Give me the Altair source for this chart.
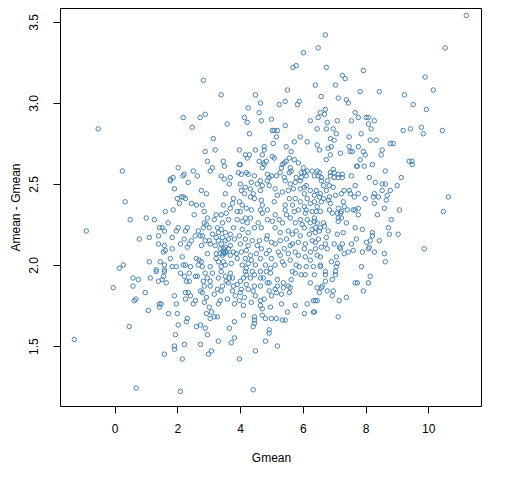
import altair as alt
import pandas as pd

# --- values, grouped by region of the plot ---
gmean_top = [11.21, 6.72, 6.49, 6.02, 10.54, 5.69, 5.79, 6.75, 7.93, 7.26, 7.35, 9.90, 2.83, 6.40, 7.04, 5.51, 7.83, 8.44, 10.16]
diff_top = [3.54, 3.42, 3.34, 3.31, 3.34, 3.22, 3.23, 3.22, 3.20, 3.17, 3.15, 3.16, 3.14, 3.11, 3.11, 3.08, 3.07, 3.07, 3.08]

gmean_left = [-0.52, 0.25, 0.34, 0.50, -0.90, 0.79, 0.28, 0.15, 0.59, 0.76, -0.04, 0.59, 0.68, 0.63, 0.47, -1.28, 0.69]
diff_left = [2.84, 2.58, 2.39, 2.28, 2.21, 2.16, 2.00, 1.98, 1.92, 1.91, 1.86, 1.87, 1.79, 1.78, 1.62, 1.54, 1.24]

gmean_right = [9.24, 9.52, 9.94, 9.20, 9.43, 9.78, 9.84, 10.45, 9.39, 9.48, 9.49, 9.14, 10.64, 10.48, 9.87]
diff_right = [3.05, 2.99, 2.96, 2.83, 2.84, 2.85, 2.81, 2.83, 2.64, 2.64, 2.62, 2.54, 2.42, 2.33, 2.10]

gmean_d = [3.40, 2.19, 2.73, 2.89, 2.48, 3.59, 3.15, 3.21, 2.89, 2.96, 3.47, 3.50, 3.12, 3.05, 2.03, 2.51, 2.22, 2.18, 2.64, 3.40, 3.50, 1.87, 1.78]
diff_d = [3.05, 2.91, 2.91, 2.93, 2.85, 2.87, 2.78, 2.71, 2.70, 2.64, 2.64, 2.61, 2.60, 2.58, 2.60, 2.58, 2.56, 2.55, 2.55, 2.55, 2.53, 2.54, 2.53]

gmean_e = [4.49, 4.65, 4.26, 5.25, 5.44, 5.83, 5.89, 4.61, 4.14, 4.23,
           4.68, 5.00, 5.44, 6.24, 4.30, 5.03, 5.09, 5.19, 5.16, 5.92,
           6.14, 5.73, 5.06, 5.47, 3.98, 4.49, 4.77, 4.77, 5.63, 4.71,
           4.17, 4.30, 4.23, 5.03, 5.09, 5.57, 5.73, 4.61, 4.74, 4.84,
           5.41, 5.47, 5.86, 4.01, 3.98, 4.77, 5.35, 5.32, 4.71, 5.60,
           5.63, 6.02, 6.14, 6.30, 5.95, 6.05, 3.95, 4.04, 4.20, 4.26,
           4.46, 4.87, 5.00, 5.16, 5.28, 5.57, 3.69, 4.93, 5.41, 5.79,
           5.95, 6.11]
diff_e = [3.05, 3.00, 2.97, 2.99, 3.01, 2.99, 3.01, 2.94, 2.91, 2.88,
          2.89, 2.90, 2.86, 2.89, 2.81, 2.83, 2.83, 2.83, 2.79, 2.79,
          2.76, 2.76, 2.75, 2.73, 2.71, 2.71, 2.73, 2.71, 2.70, 2.68,
          2.68, 2.68, 2.66, 2.67, 2.66, 2.66, 2.65, 2.64, 2.63, 2.64,
          2.63, 2.64, 2.63, 2.62, 2.62, 2.62, 2.62, 2.60, 2.60, 2.60,
          2.58, 2.60, 2.58, 2.58, 2.57, 2.57, 2.57, 2.56, 2.57, 2.56,
          2.55, 2.56, 2.55, 2.55, 2.57, 2.57, 2.54, 2.54, 2.54, 2.54,
          2.54, 2.55]

gmean_f = [6.59, 7.13, 7.39, 7.45, 6.72, 6.56, 6.69, 7.67, 6.49, 6.78,
           7.10, 7.55, 7.77, 8.02, 8.09, 8.28, 8.09, 6.46, 6.75, 6.97,
           7.07, 8.18, 7.48, 7.86, 6.88, 7.00, 8.15, 8.34, 6.46, 8.79,
           8.88, 7.48, 7.77, 6.81, 6.91, 6.53, 7.51, 7.58, 8.53, 7.93,
           7.99, 6.88, 7.20, 8.50, 6.75, 7.83, 7.71, 7.74, 7.96, 8.22,
           6.97, 8.63, 6.46, 6.53, 6.88, 6.49, 7.00, 7.13, 7.26, 6.37,
           6.88, 6.59, 7.00, 7.13, 7.26, 7.55, 8.12]
diff_f = [3.04, 3.03, 3.02, 3.00, 2.96, 2.94, 2.93, 2.94, 2.91, 2.88,
          2.89, 2.89, 2.91, 2.91, 2.91, 2.89, 2.87, 2.84, 2.84, 2.84,
          2.81, 2.84, 2.79, 2.81, 2.78, 2.77, 2.77, 2.77, 2.74, 2.75,
          2.75, 2.73, 2.73, 2.72, 2.73, 2.71, 2.70, 2.70, 2.71, 2.70,
          2.68, 2.68, 2.69, 2.68, 2.65, 2.65, 2.61, 2.61, 2.61, 2.62,
          2.59, 2.58, 2.58, 2.57, 2.57, 2.55, 2.57, 2.56, 2.56, 2.55,
          2.55, 2.54, 2.54, 2.54, 2.54, 2.55, 2.54]

gmean_g = [1.78, 2.35, 1.91, 2.77, 2.93, 3.53, 2.13, 2.19, 2.00, 2.26,
           2.07, 2.45, 2.61, 2.80, 3.47, 1.87, 1.62, 2.54, 2.86, 3.24,
           3.40, 3.56, 1.01, 1.27, 2.96, 3.18, 1.71, 2.86, 2.93, 3.44,
           1.43, 1.52, 2.03, 2.32, 2.83, 3.02, 3.28, 3.40, 1.59, 1.97,
           2.26, 2.67, 3.12, 3.31, 3.53, 1.11, 1.40, 1.84, 2.57, 2.73,
           2.80, 3.24, 3.44, 2.22, 2.45, 2.89, 3.02, 3.31, 3.53, 1.40,
           2.10, 2.38, 3.05, 3.40, 1.59, 2.32, 2.77, 3.21, 3.37, 3.53,
           1.84, 1.56, 1.62, 3.47, 3.56, 2.96, 2.16, 3.24, 3.37, 3.50,
           1.11, 1.46, 1.78, 2.61, 2.70, 2.77, 3.24, 3.31, 3.47, 1.59,
           2.19, 2.26, 2.42, 2.67, 2.80, 3.05, 1.33, 1.59, 1.84, 1.97,
           3.40, 3.53, 3.47, 3.53, 3.44]
diff_g = [2.52, 2.51, 2.47, 2.46, 2.44, 2.44, 2.42, 2.42, 2.41, 2.41,
          2.38, 2.38, 2.37, 2.37, 2.37, 2.34, 2.33, 2.31, 2.33, 2.31,
          2.31, 2.32, 2.29, 2.28, 2.29, 2.28, 2.26, 2.26, 2.25, 2.26,
          2.23, 2.23, 2.23, 2.23, 2.23, 2.23, 2.23, 2.22, 2.21, 2.21,
          2.21, 2.21, 2.19, 2.20, 2.20, 2.17, 2.18, 2.17, 2.18, 2.18,
          2.18, 2.17, 2.17, 2.16, 2.15, 2.15, 2.15, 2.15, 2.15, 2.13,
          2.13, 2.13, 2.13, 2.13, 2.12, 2.11, 2.12, 2.12, 2.10, 2.11,
          2.10, 2.08, 2.09, 2.08, 2.08, 2.07, 2.05, 2.07, 2.07, 2.07,
          2.02, 2.02, 2.04, 2.04, 2.03, 2.02, 2.04, 2.02, 2.02, 2.00,
          2.00, 2.00, 1.99, 2.00, 1.99, 1.99, 1.97, 1.97, 1.99, 1.99,
          1.99, 2.00, 2.10, 2.08, 2.06]

gmean_h = [4.01, 4.36, 4.55, 4.65, 4.87, 4.93, 4.71, 5.44, 5.60, 5.76,
           5.92, 6.11, 6.05, 4.17, 3.66, 4.04, 4.33, 4.42, 4.14, 4.65,
           5.12, 5.19, 5.35, 5.54, 5.70, 5.92, 6.24, 5.57, 5.76, 6.05,
           6.37, 3.79, 3.76, 3.98, 4.07, 4.33, 4.46, 4.68, 4.71, 5.09,
           5.44, 5.67, 5.92, 6.14, 6.05, 6.11, 6.24, 3.69, 3.91, 4.01,
           4.20, 4.36, 4.65, 4.71, 4.87, 5.12, 5.44, 5.48, 5.73, 5.86,
           6.08, 6.30, 6.37, 3.63, 3.91, 4.07, 4.17, 4.33, 4.23, 4.58,
           4.87, 5.03, 5.25, 5.35, 5.60, 5.76, 5.92, 6.14, 6.24, 5.98,
           3.79, 4.07, 4.46, 4.68, 5.12, 5.28, 5.54, 5.79, 6.05, 6.30,
           3.69, 3.98, 4.26, 4.87, 5.67, 5.92, 6.21, 3.63, 3.82, 4.17,
           4.39, 4.62, 4.84, 5.00, 5.28, 5.48, 5.67, 5.86, 6.08, 6.30,
           3.69, 4.01, 4.26, 4.55, 5.12, 5.60, 3.63, 3.79, 4.04, 4.20,
           4.68, 4.93, 5.22, 5.41, 5.76, 6.05, 6.24, 3.69, 3.88, 4.33,
           4.52, 4.84, 5.28, 5.54, 5.86, 6.08, 3.91, 4.17, 4.36, 4.65,
           5.00, 5.35, 5.60, 6.24, 3.72, 4.07, 4.26, 4.49, 4.81, 5.12,
           5.41, 5.79, 6.11, 4.20, 4.97, 5.89, 6.34]
diff_h = [2.50, 2.51, 2.50, 2.52, 2.52, 2.49, 2.49, 2.52, 2.50, 2.51,
          2.52, 2.49, 2.48, 2.48, 2.50, 2.46, 2.47, 2.44, 2.44, 2.46,
          2.47, 2.43, 2.45, 2.46, 2.47, 2.47, 2.46, 2.41, 2.41, 2.44,
          2.43, 2.41, 2.38, 2.39, 2.37, 2.42, 2.41, 2.40, 2.37, 2.39,
          2.37, 2.37, 2.39, 2.41, 2.36, 2.34, 2.38, 2.35, 2.33, 2.33,
          2.35, 2.34, 2.34, 2.32, 2.34, 2.31, 2.34, 2.31, 2.33, 2.34,
          2.32, 2.33, 2.29, 2.28, 2.28, 2.27, 2.29, 2.29, 2.26, 2.26,
          2.28, 2.27, 2.28, 2.26, 2.29, 2.26, 2.28, 2.28, 2.26, 2.25,
          2.23, 2.22, 2.23, 2.23, 2.23, 2.20, 2.21, 2.21, 2.23, 2.22,
          2.19, 2.18, 2.20, 2.18, 2.19, 2.18, 2.19, 2.16, 2.16, 2.16,
          2.15, 2.15, 2.16, 2.14, 2.15, 2.16, 2.13, 2.14, 2.13, 2.15,
          2.12, 2.13, 2.12, 2.12, 2.13, 2.12, 2.10, 2.08, 2.08, 2.09,
          2.10, 2.09, 2.08, 2.10, 2.08, 2.10, 2.08, 2.06, 2.07, 2.06,
          2.07, 2.07, 2.06, 2.07, 2.06, 2.05, 2.04, 2.04, 2.03, 2.04,
          2.04, 2.02, 2.03, 2.03, 2.01, 2.00, 2.01, 2.00, 2.00, 2.00,
          2.00, 2.00, 1.99, 1.98, 1.98, 1.99, 1.99]

gmean_i = [6.59, 6.78, 6.66, 6.85, 6.97, 7.67, 8.31, 8.53, 8.63, 9.01,
           6.43, 6.56, 6.75, 7.32, 7.48, 7.52, 7.77, 8.28, 8.53, 8.79,
           8.69, 6.53, 6.85, 7.04, 7.23, 7.64, 8.25, 8.41, 7.99, 6.37,
           6.66, 6.82, 7.29, 8.28, 8.66, 6.59, 6.46, 6.88, 7.32, 7.13,
           7.77, 8.60, 9.08, 6.43, 6.56, 6.85, 6.94, 7.23, 7.42, 7.61,
           7.67, 7.10, 7.20, 7.77, 8.38, 6.37, 7.13, 7.23, 8.82, 6.46,
           6.66, 7.13, 7.39, 6.40, 6.56, 6.69, 7.67, 7.90, 8.73, 6.53,
           6.81, 6.40, 7.10, 7.29, 8.22, 8.22, 8.76, 9.04, 6.50, 6.75,
           7.71, 8.15, 6.40, 6.72, 7.00, 7.26, 7.55, 8.03, 8.44, 6.59,
           6.78, 7.20, 8.12, 6.40, 7.17, 6.46, 6.56, 7.32, 7.45, 7.61,
           7.90, 8.09, 8.28, 8.60, 7.07, 6.91, 7.10, 8.63, 6.56, 6.56,
           7.07, 7.87]
diff_i = [2.52, 2.52, 2.49, 2.49, 2.48, 2.49, 2.51, 2.50, 2.50, 2.49,
          2.46, 2.44, 2.46, 2.46, 2.46, 2.44, 2.44, 2.44, 2.46, 2.46,
          2.43, 2.42, 2.42, 2.43, 2.44, 2.42, 2.42, 2.42, 2.41, 2.39,
          2.41, 2.40, 2.39, 2.38, 2.40, 2.39, 2.36, 2.38, 2.36, 2.35,
          2.35, 2.35, 2.34, 2.33, 2.33, 2.34, 2.32, 2.33, 2.34, 2.34,
          2.34, 2.32, 2.32, 2.31, 2.31, 2.27, 2.29, 2.29, 2.28, 2.26,
          2.26, 2.27, 2.26, 2.23, 2.23, 2.24, 2.23, 2.22, 2.23, 2.21,
          2.21, 2.20, 2.19, 2.20, 2.20, 2.18, 2.19, 2.19, 2.16, 2.17,
          2.16, 2.15, 2.14, 2.13, 2.13, 2.13, 2.13, 2.14, 2.15, 2.11,
          2.10, 2.10, 2.11, 2.10, 2.11, 2.06, 2.05, 2.07, 2.08, 2.09,
          2.08, 2.10, 2.08, 2.07, 2.05, 2.02, 2.01, 2.02, 2.00, 1.99,
          1.99, 1.99]

gmean_j = [1.33, 1.59, 2.10, 2.38, 2.89, 3.12, 3.40, 1.14, 1.56, 2.23,
           2.58, 2.64, 2.96, 3.31, 3.53, 1.40, 1.52, 2.29, 2.38, 2.83,
           3.05, 3.56, 1.65, 2.86, 3.05, 3.44, 0.98, 1.91, 2.26, 2.35,
           2.42, 2.74, 2.80, 3.18, 3.28, 3.40, 2.26, 2.93, 3.60, 1.43,
           1.49, 1.97, 2.51, 2.58, 2.86, 3.31, 3.37, 1.43, 3.02, 1.08,
           1.72, 2.00, 2.93, 3.09, 3.18, 3.28, 3.05, 2.32, 2.29, 2.03,
           2.61, 2.74, 2.89, 1.94, 2.96, 3.31, 2.23, 2.74, 1.91, 1.91,
           3.09, 2.99, 1.59, 2.16, 2.10]
diff_j = [1.96, 1.96, 1.95, 1.95, 1.95, 1.95, 1.96, 1.92, 1.93, 1.93,
          1.93, 1.93, 1.92, 1.92, 1.93, 1.90, 1.91, 1.90, 1.90, 1.90,
          1.90, 1.90, 1.89, 1.87, 1.87, 1.87, 1.83, 1.81, 1.83, 1.83,
          1.81, 1.84, 1.83, 1.82, 1.85, 1.84, 1.79, 1.80, 1.79, 1.76,
          1.76, 1.76, 1.76, 1.78, 1.77, 1.76, 1.78, 1.74, 1.74, 1.72,
          1.70, 1.70, 1.70, 1.71, 1.68, 1.68, 1.67, 1.67, 1.65, 1.63,
          1.62, 1.63, 1.61, 1.57, 1.57, 1.53, 1.51, 1.51, 1.50, 1.48,
          1.47, 1.45, 1.45, 1.42, 1.22]

gmean_k = [3.69, 4.17, 4.39, 4.65, 4.84, 4.97, 5.67, 5.76, 5.95, 6.08,
           6.37, 3.76, 4.11, 4.33, 4.46, 4.74, 5.19, 5.63, 3.63, 3.91,
           4.20, 4.46, 4.65, 4.93, 5.19, 5.38, 5.54, 6.24, 3.76, 4.04,
           4.26, 4.42, 4.93, 5.12, 5.38, 5.60, 3.85, 4.01, 4.14, 4.49,
           5.00, 5.16, 5.32, 5.57, 3.98, 4.36, 4.65, 4.77, 3.82, 4.11,
           4.65, 4.71, 4.97, 5.32, 5.76, 6.14, 6.34, 5.51, 6.05, 6.34,
           4.11, 4.71, 4.46, 4.81, 5.00, 5.16, 5.44, 5.35, 4.46, 4.46,
           3.82, 4.42, 3.66, 4.93, 4.93, 3.82, 3.72, 4.81, 5.19, 4.49,
           3.98, 4.42, 3.66, 4.20, 4.65, 4.01, 4.87, 3.79]
diff_k = [1.95, 1.96, 1.96, 1.96, 1.96, 1.95, 1.96, 1.95, 1.94, 1.94,
          1.94, 1.92, 1.92, 1.92, 1.94, 1.92, 1.91, 1.91, 1.89, 1.88,
          1.88, 1.87, 1.87, 1.89, 1.87, 1.89, 1.87, 1.89, 1.84, 1.85,
          1.85, 1.84, 1.84, 1.85, 1.86, 1.86, 1.81, 1.83, 1.80, 1.81,
          1.81, 1.83, 1.82, 1.83, 1.78, 1.77, 1.78, 1.79, 1.76, 1.75,
          1.75, 1.73, 1.74, 1.76, 1.75, 1.76, 1.78, 1.71, 1.70, 1.71,
          1.69, 1.69, 1.68, 1.67, 1.67, 1.67, 1.66, 1.66, 1.66, 1.64,
          1.65, 1.62, 1.61, 1.60, 1.58, 1.55, 1.52, 1.53, 1.50, 1.47,
          1.42, 1.23, 1.92, 1.94, 1.92, 1.90, 1.89, 1.87]

gmean_l = [6.72, 7.04, 6.72, 7.04, 8.15, 6.94, 6.72, 7.67, 7.74, 8.09, 6.46, 6.62,
           6.59, 6.78, 6.97, 7.93, 6.53, 6.94, 7.39, 6.40, 6.46, 7.16, 6.37, 7.13]
diff_l = [1.96, 1.96, 1.94, 1.94, 1.93, 1.91, 1.90, 1.89, 1.89, 1.89, 1.86, 1.87,
          1.86, 1.84, 1.84, 1.84, 1.83, 1.81, 1.80, 1.78, 1.78, 1.78, 1.71, 1.68]

x_ticks = [0, 2, 4, 6, 8, 10]
y_ticks = [1.5, 2.0, 2.5, 3.0, 3.5]

gmean = (gmean_top + gmean_left + gmean_right + gmean_d + gmean_e + gmean_f
         + gmean_g + gmean_h + gmean_i + gmean_j + gmean_k + gmean_l)
diff = (diff_top + diff_left + diff_right + diff_d + diff_e + diff_f
        + diff_g + diff_h + diff_i + diff_j + diff_k + diff_l)

df = pd.DataFrame({"Gmean": gmean, "AmG": diff})

FONT = "Liberation Sans"

chart = alt.Chart(df).mark_point(
    shape="circle", filled=False, size=20, strokeWidth=1, color="#4682b4", opacity=1
).encode(
    x=alt.X("Gmean:Q",
            scale=alt.Scale(domain=[-1.737, 11.68], nice=False, zero=False),
            axis=alt.Axis(values=x_ticks, format="d", title="Gmean",
                          domain=False, grid=False, tickSize=7, tickColor="black",
                          tickWidth=1, labelFont=FONT, labelFontSize=12,
                          labelColor="black", labelPadding=10,
                          titleFont=FONT, titleFontSize=12, titleFontWeight="normal",
                          titleColor="black", titleX=211, titleY=51,
                          titleBaseline="middle", titleAlign="center")),
    y=alt.Y("AmG:Q",
            scale=alt.Scale(domain=[1.13, 3.586], nice=False, zero=False),
            axis=alt.Axis(values=y_ticks, format=".1f", title="Amean - Gmean",
                          domain=False, grid=False, tickSize=7, tickColor="black",
                          tickWidth=1, labelFont=FONT, labelFontSize=12,
                          labelColor="black", labelAngle=270, labelAlign="center",
                          labelBaseline="bottom", labelPadding=13,
                          titleFont=FONT, titleFontSize=12, titleFontWeight="normal",
                          titleColor="black", titleAngle=270, titleX=-45, titleY=199,
                          titleBaseline="middle", titleAlign="center")),
).properties(
    width=421,
    height=398,
    padding={"left": 52, "top": 0, "right": 20, "bottom": 62},
    autosize=alt.AutoSizeParams(type="none"),
    background="white",
).configure_view(
    stroke="black", strokeWidth=1
)

chart.save("out.html", embed_options={"renderer": "svg", "actions": False})
